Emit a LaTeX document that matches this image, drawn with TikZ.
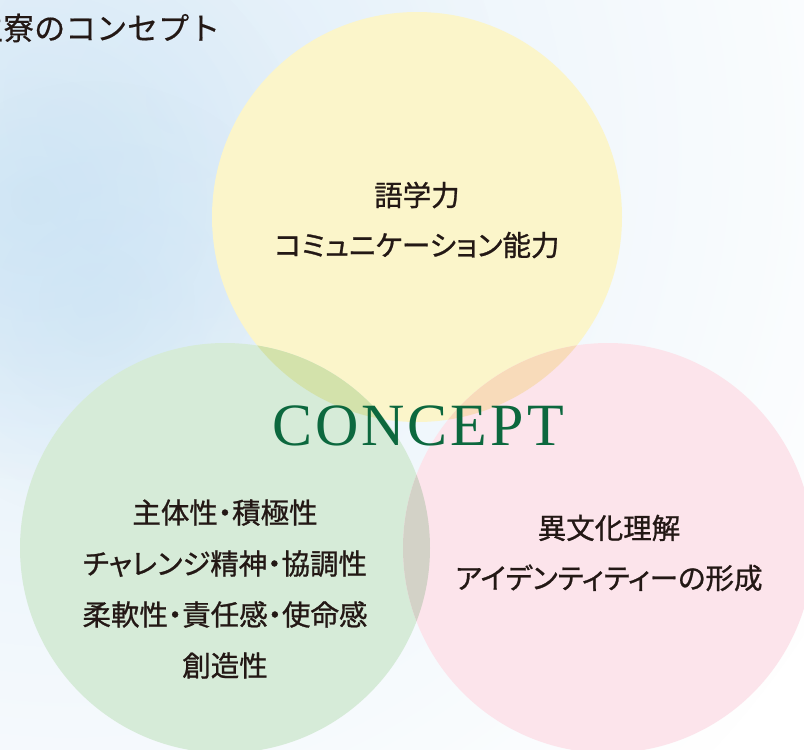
\documentclass[tikz,border=0pt]{standalone}
\usepackage{fontspec}
\usetikzlibrary{fadings}
\newfontfamily\jp[RawFeature=+palt, FakeBold=0.9]{Noto Sans CJK JP}
\newfontfamily\jptitle[FakeBold=0.4]{Noto Sans CJK JP}
\newfontfamily\cpt[LetterSpace=5]{Liberation Serif}
\definecolor{cy}{RGB}{251,245,202}
\definecolor{cg}{RGB}{214,235,216}
\definecolor{cp}{RGB}{252,228,235}
\definecolor{cyg}{RGB}{211,226,171}
\definecolor{cgp}{RGB}{211,210,199}
\definecolor{cyp}{RGB}{248,219,186}
\definecolor{ink}{RGB}{35,24,21}
\definecolor{cgreen}{RGB}{12,104,62}
\definecolor{washc}{RGB}{218,235,248}
\definecolor{sky}{RGB}{198,225,244}
\tikzfading[name=blobfade, inner color=transparent!0, outer color=transparent!100]
\tikzset{
  ball/.style={circle, minimum size=410pt, inner sep=0pt, draw=none},
  jptext/.style={align=center, inner sep=0pt, text=ink, font=\jp\fontsize{28.5}{50}\selectfont},
  softblob/.style={path fading=blobfade, fill opacity=#1},
}
\begin{document}
\begin{tikzpicture}[x=1pt,y=-1pt]
\useasboundingbox (0,0) rectangle (804,750);
\clip (0,0) rectangle (804,750);
\fill[white] (0,0) rectangle (804,750);
% soft watercolour background
\fill[washc, softblob=0.8] (70,150) circle[radius=880pt];
\fill[washc, softblob=0.45] (180,100) circle[radius=320pt];
\fill[sky, softblob=0.55] (35,200) circle[radius=280pt];
\fill[sky, softblob=0.45] (95,300) circle[radius=220pt];
% circles
\node[ball, fill=cy] (yel) at (417,217) {};
\node[ball, fill=cg] (grn) at (225,548) {};
\node[ball, fill=cp] (pnk) at (608,548) {};
\begin{scope}
  \clip (yel.center) circle[radius=205pt];
  \fill[cyg] (grn.center) circle[radius=205pt];
  \fill[cyp] (pnk.center) circle[radius=205pt];
\end{scope}
\begin{scope}
  \clip (grn.center) circle[radius=205pt];
  \fill[cgp] (pnk.center) circle[radius=205pt];
\end{scope}
% title
\node[anchor=west, inner sep=0pt, text=ink, font=\jptitle\fontsize{31}{31}\selectfont] (title) at (-28,28) {生寮のコンセプト};
% texts
\node[jptext] (ytxt) at (417,220) {語学力\\コミュニケーション能力};
\node[jptext, font=\jp\fontsize{28.5}{51}\selectfont] (gtxt) at (225,589) {主体性・積極性\\チャレンジ精神・協調性\\柔軟性・責任感・使命感\\創造性};
\node[jptext] (ptxt) at (609,553) {異文化理解\\アイデンティティーの形成};
\node[anchor=base, inner sep=0pt, text=cgreen, font=\cpt\fontsize{60}{60}\selectfont] (concept) at (418,445) {CONCEPT};
\end{tikzpicture}
\end{document}
